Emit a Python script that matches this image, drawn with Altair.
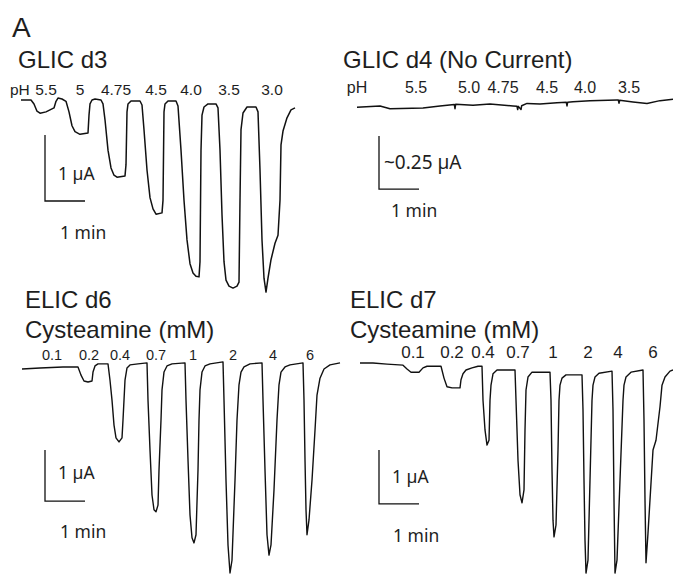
import altair as alt
import pandas as pd

# ---------------- data (time in s, current in µA) ----------------
glic3_trace = [
    (0, 0), (15, 0), (19.5, -0.06), (24, -0.17), (28.5, -0.20), (37.5, -0.18), (43.5, -0.15),
    (49.5, -0.12), (52.5, -0.02), (55.5, 0.03), (61.5, 0.015), (67.5, -0.02), (72, -0.18),
    (76.5, -0.39), (81, -0.48), (88.5, -0.52), (100.5, -0.50), (102, -0.23), (103.5, -0.06),
    (106.5, 0), (111, 0.015), (120, 0), (123, -0.06), (126, -0.30), (130.5, -0.76), (135, -1.03),
    (139.5, -1.14), (144, -1.17), (156, -1.15), (157.5, -0.98), (159, -0.18), (160.5, -0.06),
    (165, -0.015), (178.5, -0.015), (181.5, -0.076), (184.5, -0.45), (189, -1.06), (193.5, -1.48),
    (198, -1.65), (202.5, -1.73), (211.5, -1.71), (213, -1.52), (214.5, -0.18), (216, -0.06),
    (220.5, -0.015), (232.5, -0.015), (235.5, -0.09), (240, -0.76), (244.5, -1.52), (249, -2.12),
    (253.5, -2.48), (258, -2.62), (262.5, -2.67), (267, -2.68), (268.5, -2.45), (270, -0.76),
    (271.5, -0.23), (274.5, -0.106), (280.5, -0.06), (292.5, -0.06), (295.5, -0.12), (298.5, -0.76),
    (301.5, -1.74), (304.5, -2.45), (307.5, -2.73), (312, -2.82), (318, -2.85), (324, -2.82),
    (327, -2.76), (328.5, -1.52), (330, -0.45), (333, -0.197), (339, -0.106), (352.5, -0.106),
    (355.5, -0.18), (358.5, -1.06), (361.5, -2.12), (364.5, -2.70), (367.5, -2.91), (370.5, -2.70),
    (375, -2.42), (381, -2.17), (385.5, -2.05), (388.5, -1.52), (390, -0.68), (393, -0.47),
    (399, -0.27), (405, -0.15), (411, -0.12),
]
glic3_labels = ["5.5", "5", "4.75", "4.5", "4.0", "3.5", "3.0"]
glic3_label_t = [37.5, 88.5, 142.5, 202.5, 255, 312, 376.5]

glic4_trace = [
    (0, -0.001), (34.5, 0.005), (49.5, -0.008), (99, -0.005), (124.5, 0.005), (146, 0.012),
    (147, -0.008), (148, 0.013), (174, 0.008), (199.5, 0.014), (234, 0.005), (240, 0.003),
    (241, -0.012), (242, 0.003), (246, -0.012), (247, 0.006), (255, 0.017), (274.5, 0.014),
    (300, 0.02), (314, 0.022), (315, 0.005), (316, 0.022), (324, 0.025), (349.5, 0.03),
    (390, 0.033), (392, 0.033), (393, 0.018), (394, 0.032), (414, 0.024), (435, 0.017),
    (454.5, 0.03), (474, 0.036),
]
glic4_labels = ["pH", "5.5", "5.0", "4.75", "4.5", "4.0", "3.5"]
glic4_label_t = [0, 88.5, 168, 219, 285, 342, 408]

elic6_trace = [
    (0, 0), (27, 0.02), (61.5, 0.04), (84, 0.04), (88.5, -0.12), (93, -0.235), (99, -0.255),
    (105, -0.235), (106.5, -0.06), (109.5, 0.06), (114, 0.10), (129, 0.10), (132, -0.22),
    (135, -0.61), (138, -1.10), (141, -1.35), (145.5, -1.43), (150, -1.35), (151.5, -1.0),
    (153, -0.61), (154.5, -0.22), (157.5, 0.02), (162, 0.08), (174, 0.10), (187.5, 0.12),
    (189, -0.61), (192, -1.59), (195, -2.47), (198, -2.76), (201, -2.80), (204, -2.67),
    (205.5, -1.98), (208.5, -1.0), (210, -0.41), (213, -0.06), (217.5, 0.06), (225, 0.10),
    (244.5, 0.12), (246, -0.61), (249, -1.78), (252, -2.86), (255, -3.31), (258, -3.41),
    (261, -3.25), (264, -1.98), (265.5, -1.0), (267, -0.41), (270, -0.06), (274.5, 0.06),
    (282, 0.10), (301.5, 0.14), (303, -0.61), (306, -2.18), (309, -3.45), (312, -4.0),
    (315, -3.75), (319.5, -2.18), (322.5, -1.0), (325.5, -0.31), (328.5, -0.06), (333, 0.04),
    (342, 0.10), (360, 0.12), (361.5, -0.61), (364.5, -1.98), (367.5, -3.25), (370.5, -3.65),
    (373.5, -3.45), (378, -2.37), (382.5, -1.0), (385.5, -0.31), (388.5, -0.06), (394.5, 0.04),
    (402, 0.08), (421.5, 0.12), (423, -0.61), (424.5, -1.78), (426, -2.76), (427.5, -3.25),
    (430.5, -2.96), (435, -2.18), (439.5, -1.20), (442.5, -0.51), (447, -0.18), (453, 0),
    (462, 0.08), (477, 0.12),
]
elic_labels = ["0.1", "0.2", "0.4", "0.7", "1", "2", "4", "6"]
elic6_label_t = [45, 100.5, 147, 201, 256.5, 316.5, 376.5, 432]

elic7_trace = [
    (0, 0), (19.5, 0), (40.5, -0.02), (64.5, -0.04), (70.5, -0.11), (76.5, -0.17), (88.5, -0.17),
    (94.5, -0.09), (100.5, -0.06), (121.5, -0.06), (126, -0.28), (130.5, -0.44), (138, -0.46),
    (150, -0.46), (151.5, -0.31), (154.5, -0.20), (159, -0.13), (168, -0.09), (177, -0.06),
    (183, -0.06), (184.5, -0.69), (187.5, -1.24), (190.5, -1.52), (193.5, -1.43), (195, -0.69),
    (196.5, -0.41), (199.5, -0.20), (205.5, -0.13), (232.5, -0.13), (234, -0.69), (237, -1.80),
    (240, -2.44), (243, -2.59), (246, -2.35), (247.5, -1.24), (249, -0.50), (252, -0.26),
    (258, -0.17), (285, -0.17), (286.5, -0.69), (288, -1.98), (289.5, -2.91), (291, -3.22),
    (294, -3.0), (297, -1.61), (298.5, -0.69), (300, -0.41), (303, -0.28), (309, -0.22),
    (333, -0.22), (334.5, -0.87), (336, -2.17), (337.5, -3.28), (339, -3.89), (342, -3.65),
    (345, -2.17), (348, -0.69), (349.5, -0.41), (352.5, -0.26), (358.5, -0.19), (378, -0.15),
    (379.5, -0.87), (381, -2.54), (382.5, -3.89), (385.5, -3.65), (390, -2.17), (394.5, -0.69),
    (396, -0.41), (399, -0.26), (406.5, -0.17), (424.5, -0.13), (426, -1.06), (427.5, -2.54),
    (429, -3.70), (432, -3.15), (439.5, -1.61), (444, -1.43), (450, -0.81), (453, -0.41),
    (457.5, -0.26), (465, -0.15), (469.5, -0.13),
]
elic7_label_t = [79.5, 138, 184.5, 237, 289.5, 342, 387, 439.5]

# scale bars: (start time s, top current µA, bar height µA, bar length s)
glic3_bar = (36, -0.53, 1.0, 60)
glic4_bar = (33, -0.137, 0.25, 60)
elic6_bar = (34.5, -1.59, 1.0, 60)
elic7_bar = (28.5, -1.61, 1.0, 60)

# ---------------- layout ----------------
INK = "#111111"
TXT = "#1e1e1e"
SANS = "Liberation Sans, Arial, Helvetica, sans-serif"
MYR = "Noto Sans, Open Sans, sans-serif"


def sx(x0):
    return alt.Scale(domain=[0, 600], range=[x0, x0 + 400], nice=False, zero=False)


def sy(lo, hi, plo, phi):
    return alt.Scale(domain=[lo, hi], range=[plo, phi], nice=False, zero=False)


panels = {
    "g3": (sx(21), sy(-3.5, 0.5, 331, 67)),
    "g4": (sx(357), sy(-0.5, 0.25, 213, 54)),
    "e6": (sx(22), sy(-4.5, 0.5, 598.5, 343.5)),
    "e7": (sx(360), sy(-4.5, 0.5, 606, 336)),
}


def trace(pts, key, width=1.4):
    xs, ys = panels[key]
    df = pd.DataFrame({"t": [p[0] for p in pts], "i": [p[1] for p in pts]})
    df["k"] = range(len(df))
    return alt.Chart(df).mark_line(color=INK, strokeWidth=width, strokeJoin="round").encode(
        x=alt.X("t:Q", scale=xs, axis=None),
        y=alt.Y("i:Q", scale=ys, axis=None),
        order=alt.Order("k:Q"),
    )


def bar(spec, key):
    t0, top, h, L = spec
    xs, ys = panels[key]
    df = pd.DataFrame({"t": [t0, t0, t0 + L], "i": [top, top - h, top - h], "k": [0, 1, 2]})
    return alt.Chart(df).mark_line(color=INK, strokeWidth=1.3).encode(
        x=alt.X("t:Q", scale=xs, axis=None),
        y=alt.Y("i:Q", scale=ys, axis=None),
        order=alt.Order("k:Q"),
    )


def labels(texts, times, key, baseline_px, size, font=SANS):
    xs, _ = panels[key]
    df = pd.DataFrame({"s": texts, "t": times})
    return alt.Chart(df).mark_text(
        align="center", baseline="alphabetic", font=font, fontSize=size, color=TXT
    ).encode(x=alt.X("t:Q", scale=xs, axis=None), y=alt.value(baseline_px), text="s:N")


def free(txt, x, y, size, font=SANS):
    return alt.Chart(pd.DataFrame({"s": [txt]})).mark_text(
        align="left", baseline="alphabetic", font=font, fontSize=size, color=TXT
    ).encode(x=alt.value(x), y=alt.value(y), text="s:N")


layers = [
    trace(glic3_trace, "g3", 1.5), bar(glic3_bar, "g3"),
    labels(glic3_labels, glic3_label_t, "g3", 95, 15.5),
    trace(glic4_trace, "g4", 1.5), bar(glic4_bar, "g4"),
    labels(glic4_labels, glic4_label_t, "g4", 93, 16),
    trace(elic6_trace, "e6"), bar(elic6_bar, "e6"),
    labels(elic_labels, elic6_label_t, "e6", 360, 14.5),
    trace(elic7_trace, "e7"), bar(elic7_bar, "e7"),
    labels(elic_labels, elic7_label_t, "e7", 358, 17),
    free("A", 12, 37, 28),
    free("GLIC d3", 18, 68, 24),
    free("pH", 10, 95, 15.5),
    free("GLIC d4 (No Current)", 343, 68, 24),
    free("ELIC d6", 25, 308, 24),
    free("Cysteamine (mM)", 25, 338, 24),
    free("ELIC d7", 350, 308, 24),
    free("Cysteamine (mM)", 350, 338, 24),
    free("1 µA", 58, 180, 17.5, MYR),
    free("1 min", 60, 239, 17.5, MYR),
    free("~0.25 µA", 384, 169, 19, MYR),
    free("1 min", 391, 217, 17.5, MYR),
    free("1 µA", 58, 479, 17.5, MYR),
    free("1 min", 60, 538, 17.5, MYR),
    free("1 µA", 392, 483, 17.5, MYR),
    free("1 min", 393, 542, 17.5, MYR),
]

chart = (
    alt.layer(*layers)
    .resolve_scale(x="independent", y="independent")
    .properties(width=673, height=575, padding=0, autosize=alt.AutoSizeParams(type="none"),
                background="white")
    .configure_view(stroke=None)
)

chart.save("out.html", embed_options={"renderer": "svg", "actions": False})
